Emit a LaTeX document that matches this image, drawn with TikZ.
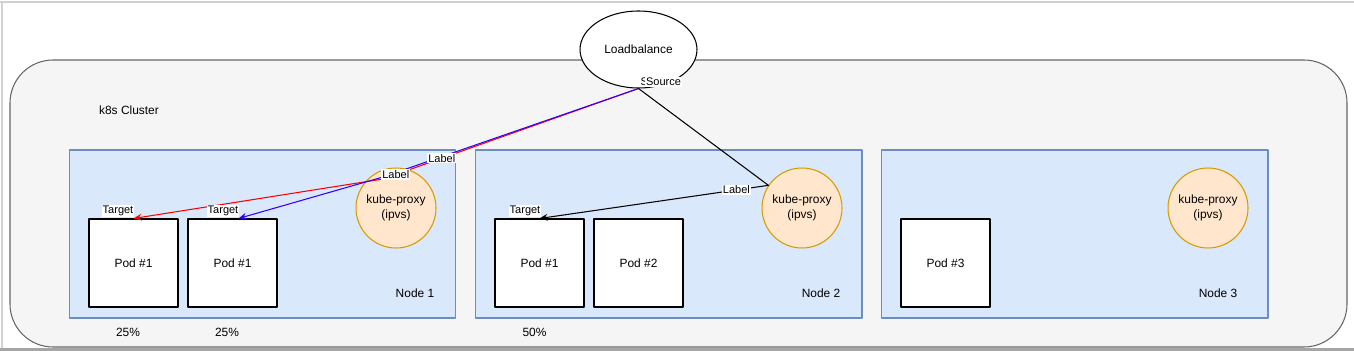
\documentclass[tikz,border=0pt]{standalone}
\usepackage{fontspec}
\setmainfont{Liberation Sans}
\usetikzlibrary{arrows.meta,shapes.geometric}

\definecolor{clusterfill}{HTML}{F5F5F5}
\definecolor{clusterline}{HTML}{666666}
\definecolor{hostfill}{HTML}{DAE8FC}
\definecolor{hostline}{HTML}{6C8EBF}
\definecolor{proxyfill}{HTML}{FFE6CC}
\definecolor{proxyline}{HTML}{D79B00}
\definecolor{bluelink}{HTML}{3300FF}

\begin{document}
\begin{tikzpicture}[line cap=round,line join=round,x=0.02cm,y=-0.02cm,
	font=\fontsize{6.8}{8.2}\selectfont,
	hostbox/.style={draw=hostline,fill=hostfill,line width=0.6pt,minimum width=7.74cm,minimum height=3.36cm,inner sep=0pt},
	podbox/.style={draw,fill=white,line width=0.6pt,minimum width=1.78cm,minimum height=1.76cm,inner sep=0pt},
	proxy/.style={circle,draw=proxyline,fill=proxyfill,line width=0.6pt,minimum size=1.6cm,inner sep=0pt,align=center},
	lbl/.style={fill=white,inner sep=0.6pt,font=\fontsize{6.26}{7}\selectfont},
	link/.style={line width=0.6pt,-{Stealth[length=4.6pt,width=3.8pt]}}]
	\useasboundingbox (0,0) rectangle (1354,351);
	%% frame of the page
	\draw [line width=0.6pt,color=black!18] (0,2) -- (1354,2);
	\draw [line width=0.6pt,color=black!18] (2,2) -- (2,351);
	\draw [line width=1.2pt,color=black!35] (0,349.5) -- (1354,349.5);
	%% cluster
	\draw [line width=0.6pt,draw=clusterline,fill=clusterfill,rounded corners=0.86cm] (10,60) rectangle (1347,347);
	\node (cluster) at (129,110) {k8s Cluster};
	%% hosts
	\node [hostbox] (host1) at (262.5,234) {};
	\node [hostbox] (host2) at (668.5,234) {};
	\node [hostbox] (host3) at (1074.5,234) {};
	\node (host1lbl) at (415,293) {Node 1};
	\node (host2lbl) at (821,293) {Node 2};
	\node (host3lbl) at (1218,293) {Node 3};
	%% pods
	\node [podbox] (pod1a) at (133.5,263) {Pod \#1};
	\node [podbox] (pod1b) at (232.5,263) {Pod \#1};
	\node [podbox] (pod2a) at (539.5,263) {Pod \#1};
	\node [podbox] (pod2b) at (638.5,263) {Pod \#2};
	\node [podbox] (pod3a) at (945.5,263) {Pod \#3};
	\node (pct1a) at (128,332) {25\%};
	\node (pct1b) at (227,332) {25\%};
	\node (pct2a) at (534.5,332) {50\%};
	%% kube-proxy
	\node [proxy] (proxy1) at (396,208) {kube-proxy\\(ipvs)};
	\node [proxy] (proxy2) at (802,208) {kube-proxy\\(ipvs)};
	\node [proxy] (proxy3) at (1208,208) {kube-proxy\\(ipvs)};
	%% load balancer
	\node [ellipse,draw,fill=white,line width=0.6pt,minimum width=2.34cm,minimum height=1.54cm,inner sep=0pt] (lb) at (638.5,49.5) {Loadbalance};
	%% links
	\coordinate (split) at (383,179);
	\draw [link,color=red] (lb.south) -- (split) -- (pod1a.north);
	\draw [link,color=bluelink] (lb.south) -- ([yshift=0.04cm]split) -- ([xshift=0.12cm]pod1b.north);
	\draw [link] (lb.south) -- (proxy2.146) -- (pod2a.north);
	%% labels
	\path (lb.south) -- node[lbl,pos=0.77] (redlbl) {Label} (split);
	\path (lb.south) -- node[lbl,pos=0.95] (bluelbl) {Label} (split);
	\path (proxy2.146) -- node[lbl,pos=0.14] (blacklbl) {Label} (pod2a.north);
	\node [lbl] (src2) at (658,82) {Source};
	\node [lbl] (src1) at (663.5,82) {Source};
	\node [lbl] (tgt1a) at (118,211) {Target};
	\node [lbl] (tgt1b) at (223,211) {Target};
	\node [lbl] (tgt2a) at (525,211) {Target};
\end{tikzpicture}
\end{document}
